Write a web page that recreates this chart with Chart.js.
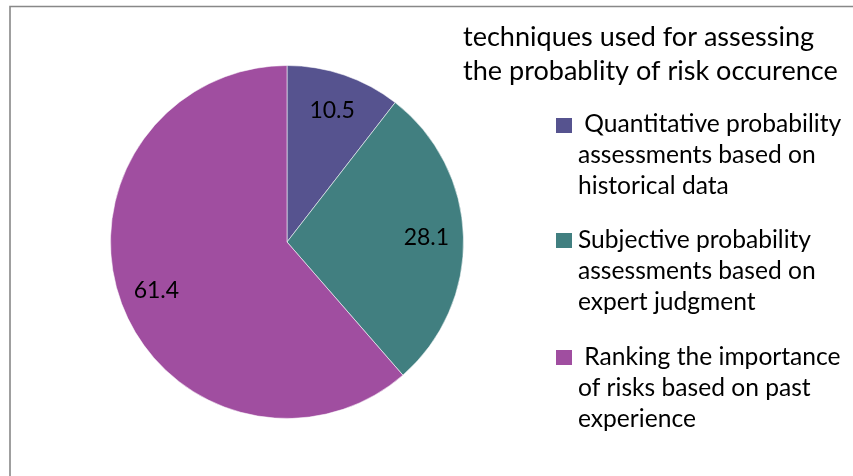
<!DOCTYPE html>
<html>
<head>
<meta charset="utf-8">
<script src="https://cdn.jsdelivr.net/npm/chart.js@4.4.1/dist/chart.umd.min.js"></script>
<style>
html,body{margin:0;padding:0;background:#fff;}
#wrap{position:relative;width:853px;height:476px;}
canvas{display:block;}
</style>
</head>
<body>
<div id="wrap"><canvas id="c" width="853" height="476"></canvas></div>
<script>
const titleLines = ["techniques used for assessing", "the probablity of risk occurence"];
const categories = [
  [" Quantitative probability", "assessments based on", "historical data"],
  ["Subjective probability", "assessments based on", "expert judgment"],
  [" Ranking the importance", "of risks based on past", "experience"]
];
const values = [10.5, 28.1, 61.4];
const colors = ["#56538F", "#417F80", "#A04EA0"];

const FONT = "Lato, 'Open Sans', sans-serif";

function fitSize(ctx, text, target, base) {
  ctx.font = base + "px " + FONT;
  const w = ctx.measureText(text).width;
  return base * target / w;
}

const overlay = {
  id: 'overlay',
  afterDraw(chart) {
    const ctx = chart.ctx;
    ctx.save();
    // frame
    ctx.strokeStyle = "#888888";
    ctx.lineWidth = 1.6;
    ctx.beginPath();
    ctx.moveTo(10, 476);
    ctx.lineTo(10, 6.5);
    ctx.lineTo(853, 6.5);
    ctx.stroke();

    ctx.fillStyle = "#000";
    ctx.textBaseline = "alphabetic";
    ctx.textAlign = "left";
    // title
    const ts = fitSize(ctx, titleLines[1], 375, 24);
    ctx.font = ts + "px " + FONT;
    ctx.fillText(titleLines[0], 463, 46);
    ctx.fillText(titleLines[1], 463, 80);

    // legend
    const ls = fitSize(ctx, "Quantitative probability", 257, 22);
    const itemBase = [132, 248, 365];
    const squareTop = [118, 233, 350];
    categories.forEach((lines, i) => {
      ctx.fillStyle = colors[i];
      ctx.fillRect(556, squareTop[i], 16, 15);
      ctx.fillStyle = "#000";
      ctx.font = ls + "px " + FONT;
      lines.forEach((ln, j) => {
        ctx.fillText(ln, 578, itemBase[i] + j * 31);
      });
    });

    // data labels
    const meta = chart.getDatasetMeta(0);
    ctx.font = "23px " + FONT;
    ctx.textAlign = "center";
    ctx.textBaseline = "middle";
    meta.data.forEach((arc, i) => {
      const p = arc.getProps(['startAngle','endAngle','outerRadius','x','y'], true);
      const mid = (p.startAngle + p.endAngle) / 2;
      const r = p.outerRadius * 0.79;
      ctx.fillStyle = "#000";
      ctx.fillText(String(values[i]), p.x + Math.cos(mid) * r, p.y + Math.sin(mid) * r);
    });
    ctx.restore();
  }
};

new Chart(document.getElementById('c'), {
  type: 'pie',
  data: {
    labels: categories,
    datasets: [{
      data: values,
      backgroundColor: colors,
      borderColor: "rgba(255,255,255,0.55)",
      borderWidth: 1
    }]
  },
  options: {
    responsive: false,
    animation: false,
    layout: { padding: { left: 110, top: 65, right: 389, bottom: 57 } },
    plugins: {
      legend: { display: false },
      title: { display: false },
      tooltip: { enabled: false }
    }
  },
  plugins: [overlay]
});
</script>
</body>
</html>
